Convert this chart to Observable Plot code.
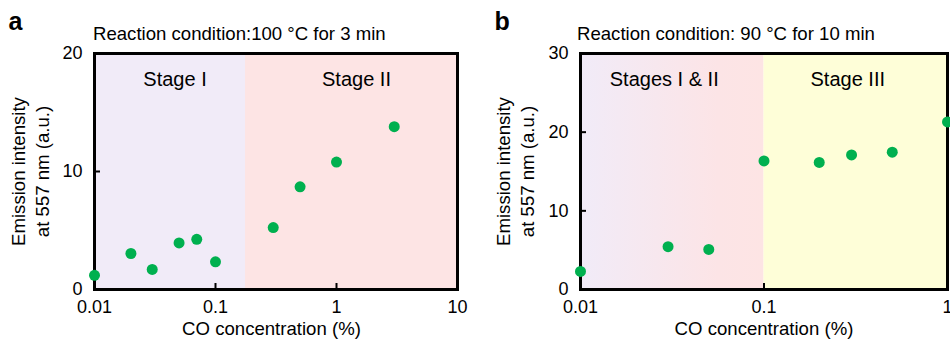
<!DOCTYPE html>
<html>
<head>
<meta charset="utf-8">
<script src="https://cdn.jsdelivr.net/npm/d3@7"></script>
<script src="https://cdn.jsdelivr.net/npm/@observablehq/plot@0.6"></script>
<style>
  html, body { margin: 0; padding: 0; background: white; }
  #wrap { display: flex; width: 950px; height: 342px; overflow: hidden; }
  #wrap > svg { flex: none; }
</style>
</head>
<body>
<div id="wrap"></div>
<script>
// ---------- data ----------
const panelLetters = ["a", "b"];
const panelTitles = ["Reaction condition:100 \u00B0C for 3 min", "Reaction condition: 90 \u00B0C for 10 min"];
const xLabel = "CO concentration (%)";
const yLabel = "Emission intensity\nat 557 nm (a.u.)";

// panel a
const aCO = [0.01, 0.02, 0.03, 0.05, 0.07, 0.1, 0.3, 0.5, 1, 3];
const aIntensity = [1.2, 3.05, 1.7, 3.95, 4.25, 2.35, 5.25, 8.7, 10.8, 13.8];
const aStageNames = ["Stage I", "Stage II"];
const aStageStart = [0.01, 0.177];
const aStageEnd = [0.177, 10];
const aXTicks = [0.01, 0.1, 1, 10];
const aXTickLabels = ["0.01", "0.1", "1", "10"];
const aYTicks = [0, 10, 20];

// panel b
const bCO = [0.01, 0.03, 0.05, 0.1, 0.2, 0.3, 0.5, 1];
const bIntensity = [2.3, 5.45, 5.1, 16.35, 16.15, 17.1, 17.45, 21.3];
const bStageNames = ["Stages I & II", "Stage III"];
const bStageStart = [0.01, 0.1];
const bStageEnd = [0.1, 1];
const bXTicks = [0.01, 0.1, 1];
const bXTickLabels = ["0.01", "0.1", "1"];
const bYTicks = [0, 10, 20, 30];

// ---------- styling ----------
const FONT = "'Liberation Sans', Arial, Helvetica, sans-serif";
const GREEN = "#00b04f";
const LAVENDER = "#f1ebf8";
const PINK = "#fde4e4";
const YELLOW = "#fefed8";

function panel(cfg) {
  const W = 475, H = 342, mT = 53, mB = 53;
  const pw = W - cfg.mL - cfg.mR, ph = H - mT - mB;
  const xDomain = [cfg.xTicks[0], cfg.xTicks[cfg.xTicks.length - 1]];
  const yDomain = [cfg.yTicks[0], cfg.yTicks[cfg.yTicks.length - 1]];
  const pts = cfg.co.map((c, i) => ({co: c, v: cfg.intensity[i]}));
  const stages = cfg.stageNames.map((n, i) => ({
    name: n, x1: cfg.stageStart[i], x2: cfg.stageEnd[i], fill: cfg.stageFill[i],
    mid: Math.sqrt(cfg.stageStart[i] * cfg.stageEnd[i])
  }));
  const innerX = cfg.xTicks.slice(1, -1);
  const innerY = cfg.yTicks.slice(1, -1);
  const fmt = d => cfg.xTickLabels[cfg.xTicks.indexOf(d)];

  const svg = Plot.plot({
    width: W, height: H, marginLeft: cfg.mL, marginRight: cfg.mR, marginTop: mT, marginBottom: mB,
    style: {fontFamily: FONT, fontSize: "18px", background: "white", color: "black"},
    x: {type: "log", domain: xDomain},
    y: {domain: yDomain},
    marks: [
      ...stages.map(s => Plot.rect([s], {x1: "x1", x2: "x2", y1: yDomain[0], y2: yDomain[1], fill: s.fill})),
      Plot.tickX(innerX, {x: d => d, insetTop: ph - 6, stroke: "black", strokeWidth: 2}),
      Plot.tickY(innerY, {y: d => d, insetRight: pw - 6, stroke: "black", strokeWidth: 2}),
      Plot.frame({stroke: "black", strokeWidth: 3}),
      Plot.axisX({ticks: cfg.xTicks, tickFormat: fmt, tickSize: 0, tickPadding: 11, label: null, fontSize: 18}),
      Plot.axisY({ticks: cfg.yTicks, tickSize: 0, tickPadding: 12, label: null, fontSize: 18}),
      Plot.text(stages, {x: "mid", y: yDomain[1], text: "name", dy: 32, dx: cfg.stageDx, fontSize: 20, lineAnchor: "bottom", fill: "black"}),
      Plot.dot(pts, {x: "co", y: "v", r: 5.5, fill: GREEN, stroke: null}),
      Plot.text([cfg.letter], {frameAnchor: "top-left", text: d => d, dx: cfg.letterDx, dy: -24, fontSize: 25, fontWeight: "bold", textAnchor: "start", lineAnchor: "bottom"}),
      Plot.text([cfg.title], {frameAnchor: "top-left", text: d => d, dx: cfg.titleDx, dy: -14, fontSize: 18.6, textAnchor: "start", lineAnchor: "bottom"}),
      Plot.text([xLabel], {frameAnchor: "bottom", text: d => d, dx: cfg.xLabelDx, dy: 45, fontSize: 18.6, lineAnchor: "bottom"}),
      Plot.text([yLabel], {frameAnchor: "left", text: d => d, dx: cfg.yLabelDx, rotate: -90, fontSize: 18.6, lineHeight: 1.3, lineAnchor: "middle", textAnchor: "middle"})
    ]
  });
  if (cfg.gradient) {
    const defs = d3.select(svg).insert("defs", ":first-child");
    const g = defs.append("linearGradient").attr("id", cfg.gradient.id).attr("x1", 0).attr("x2", 1).attr("y1", 0).attr("y2", 0);
    cfg.gradient.stops.forEach(([o, c]) => g.append("stop").attr("offset", o).attr("stop-color", c));
  }
  return svg;
}

const wrap = document.getElementById("wrap");
wrap.appendChild(panel({
  letter: panelLetters[0], title: panelTitles[0],
  co: aCO, intensity: aIntensity,
  stageNames: aStageNames, stageStart: aStageStart, stageEnd: aStageEnd, stageFill: [LAVENDER, PINK],
  xTicks: aXTicks, xTickLabels: aXTickLabels, yTicks: aYTicks,
  mL: 94, mR: 18, stageDx: 5, letterDx: -86, titleDx: -1.5, xLabelDx: -4.5, yLabelDx: -65
}));
wrap.appendChild(panel({
  letter: panelLetters[1], title: panelTitles[1],
  co: bCO, intensity: bIntensity,
  stageNames: bStageNames, stageStart: bStageStart, stageEnd: bStageEnd, stageFill: ["url(#gradB)", YELLOW],
  gradient: {id: "gradB", stops: [[0, LAVENDER], [0.75, "#fce4e6"], [1, PINK]]},
  xTicks: bXTicks, xTickLabels: bXTickLabels, yTicks: bYTicks,
  mL: 105, mR: 3, stageDx: -8, letterDx: -86, titleDx: -3.5, xLabelDx: 0, yLabelDx: -66
}));
</script>
</body>
</html>
